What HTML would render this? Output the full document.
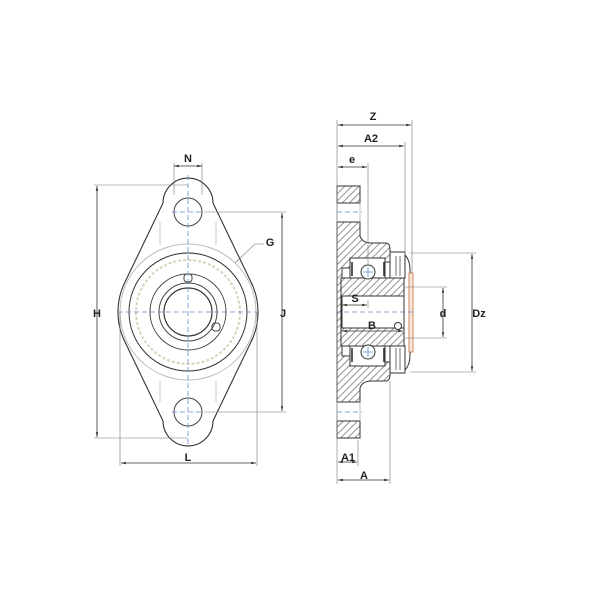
<!DOCTYPE html>
<html><head><meta charset="utf-8"><style>
html,body{margin:0;padding:0;background:#fff}
svg{display:block}
text{font-family:"Liberation Sans",sans-serif;font-weight:bold;font-size:11px;fill:#222;text-anchor:middle}
</style></head><body>
<svg width="600" height="600" viewBox="0 0 600 600" xmlns="http://www.w3.org/2000/svg">
<defs>
<pattern id="h" width="5" height="5" patternUnits="userSpaceOnUse" patternTransform="rotate(45)">
<rect width="5" height="5" fill="#fff"/><line x1="0.5" y1="0" x2="0.5" y2="5" stroke="#777" stroke-width="0.8"/>
</pattern>
<marker id="a" markerWidth="6" markerHeight="6" refX="6" refY="3" orient="auto-start-reverse"><path d="M0,1.5 L6,3 L0,4.5z" fill="#333"/></marker>
</defs>

<!-- LEFT VIEW -->
<g fill="none" stroke="#444" stroke-width="1">
<path d="M163,203 A25,25 0 0 1 213,203 L250,280 A68,68 0 0 1 250,344 L213,421 A25,25 0 0 1 163,421 L126,344 A68,68 0 0 1 126,280 Z" stroke="#333" stroke-width="1.1"/>
<circle cx="188" cy="212" r="14"/>
<circle cx="188" cy="412" r="14"/>
<circle cx="188" cy="312" r="68" stroke="#bbb"/>
<circle cx="188" cy="312" r="59" stroke="#333"/>
<circle cx="188" cy="312" r="52" stroke="#d8d2bc" stroke-width="2" stroke-dasharray="3,2"/>
<circle cx="188" cy="312" r="38"/>
<circle cx="188" cy="312" r="29"/>
<circle cx="188" cy="312" r="24" stroke="#333" stroke-width="1.2"/>
<rect x="184" y="274" width="8" height="8" rx="3"/>
<rect x="212" y="323" width="8" height="8" rx="3"/>
<path d="M160,222 V245 M216,222 V245 M160,380 V402 M216,380 V402" stroke="#ccc"/>
</g>
<g stroke="#6a8fc8" stroke-width="0.8" stroke-dasharray="5,3" fill="none">
<line x1="188" y1="175" x2="188" y2="445"/><line x1="118" y1="312" x2="258" y2="312"/>
<line x1="172" y1="212" x2="204" y2="212"/><line x1="172" y1="412" x2="204" y2="412"/>
</g>
<g stroke="#777" stroke-width="0.6" fill="none">
<line x1="174" y1="163" x2="174" y2="195"/><line x1="202" y1="163" x2="202" y2="195"/>
<line x1="94" y1="185" x2="188" y2="185"/><line x1="94" y1="438" x2="188" y2="438"/>
<line x1="204" y1="212" x2="286" y2="212"/><line x1="204" y1="412" x2="286" y2="412"/>
<line x1="120" y1="312" x2="120" y2="466"/><line x1="257" y1="312" x2="257" y2="466"/>
<path d="M235,263 L255,244 L264,244"/>
</g>
<g stroke="#333" stroke-width="0.8">
<line x1="174" y1="166" x2="202" y2="166" marker-start="url(#a)" marker-end="url(#a)"/>
<line x1="97" y1="186" x2="97" y2="437" marker-start="url(#a)" marker-end="url(#a)"/>
<line x1="282" y1="213" x2="282" y2="411" marker-start="url(#a)" marker-end="url(#a)"/>
<line x1="121" y1="463" x2="256" y2="463" marker-start="url(#a)" marker-end="url(#a)"/>
</g>
<text x="188" y="162">N</text><text x="97" y="317">H</text><text x="283" y="317">J</text>
<text x="188" y="461">L</text><text x="270" y="246">G</text>

<!-- RIGHT VIEW -->
<g stroke="#333" stroke-width="1">
<path d="M337,186 H360 V203 H337 Z" fill="url(#h)"/>
<path d="M337,222 H360 V236 Q362,243 372,243 H386 Q390,243 390,250 V262 H385 V258 H350 V268 H342 V356 H350 V366 H385 V362 H390 V374 Q390,381 386,381 H372 Q362,381 360,388 V402 H337 Z" fill="url(#h)"/>
<path d="M337,421 H360 V438 H337 Z" fill="url(#h)"/>
<path d="M337,203 V222 M360,203 V222 M337,402 V421 M360,402 V421" fill="none" stroke="#999" stroke-width="0.6"/>
<path d="M341,278 H404 V296 H341 Z M341,328 H404 V346 H341 Z" fill="url(#h)"/>
<path d="M341,296 V328 M404,296 V328" fill="none"/>
<path d="M350,258 H385 V278 H350 Z M350,346 H385 V366 H350 Z" fill="#fff"/>
<circle cx="368" cy="272" r="7" fill="#fff"/><circle cx="368" cy="352" r="7" fill="#fff"/>
<path d="M352,262 V276 M384,262 V276 M352,348 V362 M384,348 V362" stroke-width="1.6"/>
<path d="M390,252 H405 V278 H390 Z M390,346 H405 V373 H390 Z" fill="#fff"/>
<path d="M396,256 V276 M400,256 V276 M396,348 V370 M400,348 V370" stroke-width="0.7"/>
<path d="M405,255 Q410,260 410,270 V355 Q410,365 405,370" fill="none"/>
<rect x="409" y="273" width="4" height="79" fill="#f7e6dc" stroke="#c66a3a" stroke-width="0.8"/>
<circle cx="398" cy="326" r="3.5" fill="#fff"/>
</g>
<g stroke="#6a8fc8" stroke-width="0.8" stroke-dasharray="5,3">
<line x1="336" y1="312" x2="415" y2="312"/><line x1="337" y1="212" x2="362" y2="212"/><line x1="337" y1="412" x2="362" y2="412"/>
<line x1="363" y1="272" x2="373" y2="272" stroke-dasharray="none"/><line x1="368" y1="267" x2="368" y2="277" stroke-dasharray="none"/>
<line x1="363" y1="352" x2="373" y2="352" stroke-dasharray="none"/><line x1="368" y1="347" x2="368" y2="357" stroke-dasharray="none"/>
</g>
<g stroke="#777" stroke-width="0.6" fill="none">
<line x1="337" y1="120" x2="337" y2="484"/>
<line x1="412" y1="120" x2="412" y2="273"/><line x1="405" y1="142" x2="405" y2="255"/>
<line x1="368" y1="163" x2="368" y2="265"/><line x1="368" y1="300" x2="368" y2="308"/>
<line x1="358" y1="440" x2="358" y2="466"/><line x1="390" y1="381" x2="390" y2="484"/>
<line x1="410" y1="253" x2="476" y2="253"/><line x1="410" y1="372" x2="476" y2="372"/>
<line x1="405" y1="287" x2="447" y2="287"/><line x1="405" y1="338" x2="447" y2="338"/>
</g>
<g stroke="#333" stroke-width="0.8">
<line x1="338" y1="125" x2="411" y2="125" marker-start="url(#a)" marker-end="url(#a)"/>
<line x1="338" y1="146" x2="404" y2="146" marker-start="url(#a)" marker-end="url(#a)"/>
<line x1="338" y1="167" x2="367" y2="167" marker-start="url(#a)" marker-end="url(#a)"/>
<line x1="342" y1="305" x2="367" y2="305" marker-start="url(#a)" marker-end="url(#a)"/>
<line x1="342" y1="331" x2="403" y2="331" marker-start="url(#a)" marker-end="url(#a)"/>
<line x1="443" y1="288" x2="443" y2="337" marker-start="url(#a)" marker-end="url(#a)"/>
<line x1="472" y1="254" x2="472" y2="371" marker-start="url(#a)" marker-end="url(#a)"/>
<line x1="338" y1="462" x2="357" y2="462" marker-start="url(#a)" marker-end="url(#a)"/>
<line x1="338" y1="480" x2="389" y2="480" marker-start="url(#a)" marker-end="url(#a)"/>
</g>
<text x="373" y="120">Z</text><text x="371" y="142">A2</text><text x="352" y="163">e</text>
<text x="355" y="302">S</text><text x="372" y="329">B</text><text x="443" y="317">d</text>
<text x="479" y="317">Dz</text><text x="348" y="461">A1</text><text x="364" y="479">A</text>
</svg>
</body></html>
